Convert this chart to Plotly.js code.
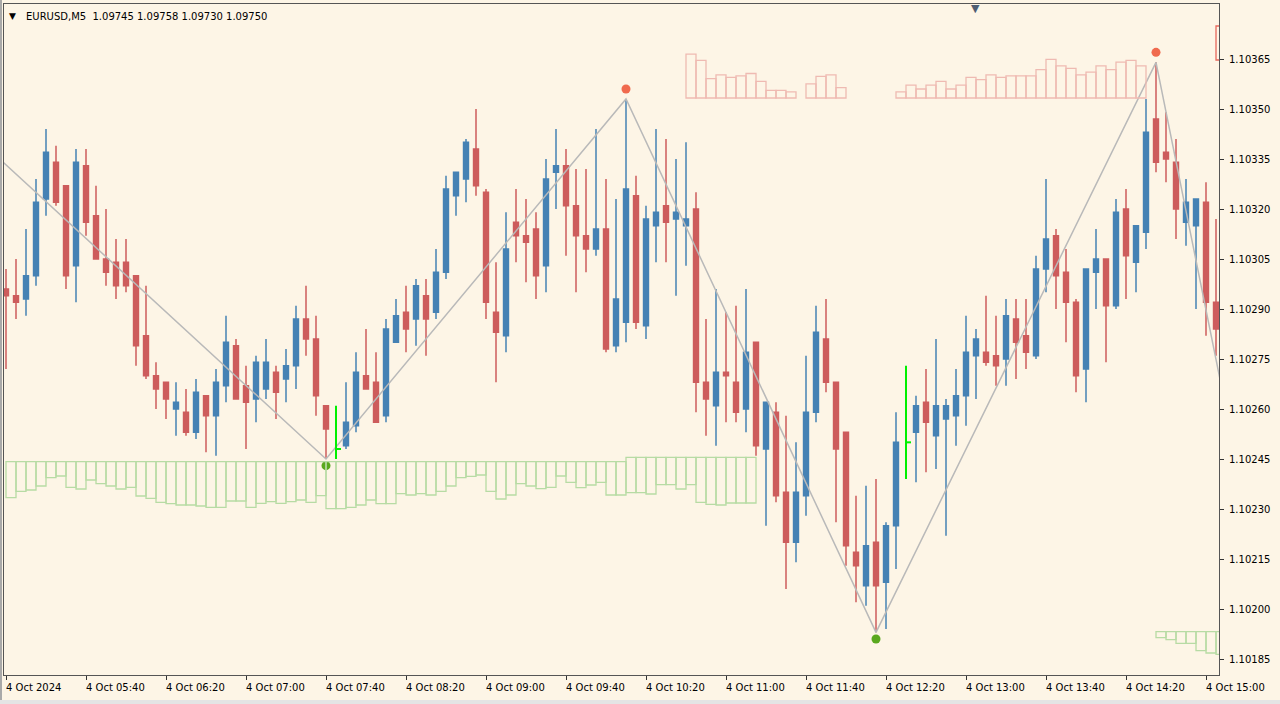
<!DOCTYPE html>
<html><head><meta charset="utf-8">
<script src="https://cdn.plot.ly/plotly-3.0.1.min.js"></script>
<style>html,body{margin:0;padding:0;background:#fdf5e6;overflow:hidden}#wrap{position:relative;width:1280px;height:704px}#chart{width:1280px;height:704px}
#fl{position:absolute;left:0;top:0;width:2px;height:704px;background:#a9a9a9}#fb{position:absolute;left:0;top:700px;width:1280px;height:4px;background:#e4e4e4}</style>
</head><body><div id="wrap"><div id="chart"></div><div id="fl"></div><div id="fb"></div></div>
<script>
// ---- Candles (EURUSD M5, 4 Oct 2024, bar index 0 = 05:00) ----
const opens = [1.10296,1.10294,1.10293,1.10300,1.10323,1.10334,1.10327,1.10303,1.10333,1.10318,
1.10305,1.10304,1.10304,1.10300,1.10282,1.10270,1.10268,1.10260,1.10259,1.10253,
1.10264,1.10258,1.10267,1.10279,1.10267,1.10263,1.10266,1.10271,1.10269,1.10273,
1.10287,1.10281,1.10261,null,1.10249,1.10255,1.10270,1.10268,1.10258,1.10280,
1.10289,1.10287,1.10294,1.10289,1.10301,1.10324,1.10329,1.10338,1.10325,1.10289,
1.10282,1.10316,1.10312,1.10314,1.10303,1.10331,1.10333,1.10321,1.10312,1.10308,
1.10314,1.10279,1.10286,1.10324,1.10285,1.10315,1.10321,1.10317,1.10315,1.10320,
1.10268,1.10261,1.10271,1.10268,1.10260,1.10280,1.10248,1.10259,1.10235,1.10220,
1.10234,1.10259,1.10281,1.10268,1.10253,1.10217,1.10207,1.10220,1.10208,1.10225,
null,1.10253,1.10262,1.10252,1.10257,1.10258,1.10264,1.10276,1.10277,1.10276,
1.10275,1.10287,1.10282,1.10276,1.10302,1.10312,1.10301,1.10292,1.10272,1.10301,
1.10305,1.10291,1.10320,1.10304,1.10313,1.10347,1.10337,1.10334,1.10316,1.10315,
1.10322,1.10292];
const highs = [1.10302,1.10305,1.10314,1.10329,1.10344,1.10339,1.10327,1.10338,1.10338,1.10327,
1.10320,1.10311,1.10311,1.10300,1.10297,1.10274,1.10268,1.10268,1.10266,1.10269,
1.10264,1.10272,1.10288,1.10281,1.10273,1.10276,1.10281,1.10273,1.10278,1.10291,
1.10297,1.10288,1.10261,null,1.10268,1.10277,1.10284,1.10277,1.10287,1.10293,
1.10297,1.10299,1.10299,1.10308,1.10330,1.10331,1.10341,1.10350,1.10326,1.10304,
1.10319,1.10326,1.10323,1.10319,1.10335,1.10344,1.10338,1.10332,1.10332,1.10344,
1.10329,1.10323,1.10353,1.10330,1.10321,1.10344,1.10341,1.10335,1.10340,1.10325,
1.10287,1.10296,1.10289,1.10291,1.10296,1.10280,1.10262,1.10262,1.10258,1.10250,
1.10276,1.10291,1.10293,1.10268,1.10253,1.10234,1.10237,1.10239,1.10226,1.10259,
null,1.10264,1.10272,1.10281,1.10263,1.10272,1.10288,1.10284,1.10294,1.10288,
1.10293,1.10293,1.10293,1.10306,1.10329,1.10314,1.10308,1.10293,1.10302,1.10314,
1.10305,1.10323,1.10326,1.10315,1.10353,1.10364,1.10349,1.10341,1.10329,1.10323,
1.10328,1.10317];
const lows = [1.10272,1.10287,1.10288,1.10297,1.10318,1.10321,1.10296,1.10292,1.10312,1.10305,
1.10297,1.10293,1.10295,1.10273,1.10269,1.10260,1.10257,1.10252,1.10252,1.10251,
1.10247,1.10246,1.10262,1.10263,1.10248,1.10256,1.10263,1.10257,1.10262,1.10266,
1.10276,1.10258,1.10245,null,1.10248,1.10253,1.10266,1.10256,1.10256,1.10280,
1.10277,1.10279,1.10276,1.10287,1.10299,1.10318,1.10322,1.10324,1.10287,1.10268,
1.10277,1.10304,1.10298,1.10293,1.10295,1.10320,1.10306,1.10295,1.10301,1.10306,
1.10277,1.10277,1.10280,1.10284,1.10281,1.10304,1.10304,1.10294,1.10303,1.10259,
1.10252,1.10249,1.10256,1.10256,1.10253,1.10246,1.10225,1.10232,1.10206,1.10214,
1.10228,1.10256,1.10265,1.10226,1.10213,1.10202,1.10201,1.10193,1.10194,1.10212,
null,1.10238,1.10241,1.10242,1.10222,1.10249,1.10255,1.10263,1.10273,1.10267,
1.10267,1.10269,1.10272,1.10275,1.10295,1.10290,1.10280,1.10265,1.10262,1.10290,
1.10274,1.10290,1.10293,1.10295,1.10308,1.10331,1.10328,1.10311,1.10309,1.10290,
1.10282,1.10276];
const closes = [1.10294,1.10292,1.10300,1.10322,1.10337,1.10322,1.10300,1.10334,1.10316,1.10305,
1.10301,1.10297,1.10297,1.10279,1.10270,1.10266,1.10263,1.10262,1.10253,1.10265,
1.10258,1.10268,1.10280,1.10263,1.10262,1.10274,1.10274,1.10265,1.10273,1.10287,
1.10281,1.10264,1.10254,null,1.10256,1.10271,1.10266,1.10256,1.10284,1.10288,
1.10284,1.10297,1.10287,1.10301,1.10326,1.10331,1.10340,1.10327,1.10292,1.10283,
1.10308,1.10312,1.10310,1.10300,1.10329,1.10333,1.10321,1.10312,1.10308,1.10314,
1.10278,1.10293,1.10326,1.10286,1.10317,1.10319,1.10316,1.10319,1.10317,1.10268,
1.10263,1.10271,1.10270,1.10259,1.10277,1.10249,1.10262,1.10234,1.10220,1.10235,
1.10259,1.10283,1.10268,1.10248,1.10219,1.10213,1.10219,1.10207,1.10225,1.10250,
null,1.10261,1.10256,1.10261,1.10261,1.10264,1.10277,1.10281,1.10274,1.10273,
1.10288,1.10280,1.10277,1.10302,1.10311,1.10300,1.10292,1.10270,1.10302,1.10305,
1.10291,1.10319,1.10306,1.10315,1.10343,1.10334,1.10335,1.10320,1.10322,1.10323,
1.10292,1.10284];

// ---- Signal bars (green lines) ----
const sigBars  = [33, 90];
const sigHigh  = [1.10261, 1.10273];
const sigLow   = [1.10245, 1.10239];
const sigLevel = [1.10248, 1.10250];

// ---- ZigZag ----
const zzBars   = [-1, 32, 62, 87, 115, 122];
const zzPrices = [1.10336, 1.10245, 1.10353, 1.10193, 1.10364, 1.10260];
const peakBars = [62, 115], peakPrices = [1.10356, 1.10367];
const troughBars = [32, 87], troughPrices = [1.10243, 1.10191];

// ---- Upper histogram (pink) ----
const pinkSlots = [68,69,70,71,72,73,74,75,76,77,78, 80,81,82,83,
 89,90,91,92,93,94,95,96,97,98,99,100,101,102,103,104,105,106,107,108,109,110,111,112,113];
const pinkValues = [43.8,37.6,19.3,23.1,20.7,22.1,24.5,16.6,7.6,7.6,6.2, 14.1,21.7,23.1,10.3,
 6.2,12.8,9.0,12.8,16.6,9.0,12.8,20.7,18.3,23.1,20.7,22.1,22.1,22.1,28.3,38.6,32.1,29.7,23.1,25.9,32.1,28.3,35.9,37.6,32.1];
const pinkCurSlots = [121], pinkCurBase = [38], pinkCurTop = [72];

// ---- Lower histogram (green) ----
const greenDepth = [36.0,29.6,28.3,24.3,16.0,14.3,25.6,27.3,18.3,22.0,
24.3,27.3,25.6,34.3,36.6,40.6,42.0,43.3,43.3,44.3,
45.6,45.6,39.3,39.3,45.6,41.6,40.0,41.6,40.0,38.3,
40.6,34.0,47.0,47.0,45.6,43.3,38.3,42.0,42.0,32.0,
33.3,32.0,33.3,29.6,24.3,16.0,14.6,13.3,29.6,37.3,
33.3,22.0,24.3,27.0,25.6,14.3,20.6,26.0,23.3,20.6,
33.3,33.3,31.0,31.0,32.3,23.0,23.0,27.3,23.0,40.6,
42.6,43.3,41.3,41.3,41.3];
const greenTop = greenDepth.map((d, i) => (i >= 62 ? 4.4 : 0));
const greenCurSlots = [115,116,117,118,119,120,121];
const greenCurTop = -170;
const greenCurDepth = [6, 8, 11.6, 11.6, 19, 21.3, 22.6];

// ---- Axis labels ----
const labelBars = [0,8,16,24,32,40,48,56,64,72,80,88,96,104,112,120];
const labelTexts = ["4 Oct 2024","4 Oct 05:40","4 Oct 06:20","4 Oct 07:00","4 Oct 07:40","4 Oct 08:20",
 "4 Oct 09:00","4 Oct 09:40","4 Oct 10:20","4 Oct 11:00","4 Oct 11:40","4 Oct 12:20","4 Oct 13:00",
 "4 Oct 13:40","4 Oct 14:20","4 Oct 15:00"];
const priceTicks = [1.10185,1.10200,1.10215,1.10230,1.10245,1.10260,1.10275,1.10290,1.10305,1.10320,1.10335,1.10350,1.10365];
const headerText = "EURUSD,M5\u00a0\u00a01.09745 1.09758 1.09730 1.09750";

const idx = opens.map((_, i) => i);
const FONT = 'DejaVu Sans';
const clear = 'rgba(0,0,0,0)';

const sigX = [], sigY = [];
sigBars.forEach((b, i) => {
  sigX.push(b, b, null, b, b + 0.5, null);
  sigY.push(sigLow[i], sigHigh[i], null, sigLevel[i], sigLevel[i], null);
});

const traces = [
  {type:'bar', x: greenDepth.map((_, i) => i + 0.5), base: greenTop, y: greenDepth.map((d, i) => -d - greenTop[i]),
   width: 1, yaxis:'y3', marker:{color: clear, line:{color:'#b7dba4', width:1.3}}, hoverinfo:'skip'},
  {type:'bar', x: greenCurSlots.map(s => s + 0.5), base: greenCurSlots.map(() => greenCurTop), y: greenCurDepth.map(d => -d),
   width: 1, yaxis:'y3', marker:{color: clear, line:{color:'#b7dba4', width:1.3}}, hoverinfo:'skip'},
  {type:'bar', x: pinkSlots.map(s => s + 0.5), base: pinkSlots.map(() => 0), y: pinkValues,
   width: 1, yaxis:'y2', marker:{color: clear, line:{color:'#efbab2', width:1.3}}, hoverinfo:'skip'},
  {type:'bar', x: pinkCurSlots.map(s => s + 0.5), base: pinkCurBase, y: pinkCurTop.map((t, i) => t - pinkCurBase[i]),
   width: 1, yaxis:'y2', marker:{color: clear, line:{color:'#e8675c', width:1.3}}, hoverinfo:'skip'},
  {type:'candlestick', x: idx, open: opens, high: highs, low: lows, close: closes,
   increasing:{line:{color:'#4682b4', width:1.5}, fillcolor:'#4682b4'},
   decreasing:{line:{color:'#cd5c5c', width:1.5}, fillcolor:'#cd5c5c'},
   whiskerwidth: 0, hoverinfo:'skip'},
  {type:'scatter', mode:'lines', x: zzBars, y: zzPrices, line:{color:'#b9b9b9', width:1.5}, hoverinfo:'skip'},
  {type:'scatter', mode:'lines', x: sigX, y: sigY, line:{color:'#00f000', width:2}, hoverinfo:'skip'},
  {type:'scatter', mode:'markers', x: peakBars, y: peakPrices, marker:{color:'#f06a4e', size:9}, hoverinfo:'skip'},
  {type:'scatter', mode:'markers', x: troughBars, y: troughPrices, marker:{color:'#5aa81e', size:9}, hoverinfo:'skip'}
];

const annotations = labelBars.map((b, i) => ({
  x: b, xref:'x', y: 0, yref:'paper', xanchor:'left', yanchor:'top', xshift:-2, yshift:-5,
  text: labelTexts[i], showarrow:false, font:{family:FONT, size:10, color:'#000'}
}));
annotations.push({x:0, xref:'paper', y:1, yref:'paper', xanchor:'left', yanchor:'middle', xshift:20, yshift:-12,
  text: headerText, showarrow:false, font:{family:FONT, size:10, color:'#000'}});
annotations.push({x:0, xref:'paper', y:1, yref:'paper', xanchor:'left', yanchor:'middle', xshift:3, yshift:-12,
  text:'\u25BC', showarrow:false, font:{family:FONT, size:9, color:'#000'}});
annotations.push({x:(975-4)/1215, xref:'paper', y:1, yref:'paper', xanchor:'center', yanchor:'middle', yshift:-4,
  text:'\u25BC', showarrow:false, font:{family:FONT, size:11, color:'#4e5d72'}});

const layout = {
  width:1280, height:704,
  margin:{l:4, r:61, t:4, b:29, pad:0},
  paper_bgcolor:'#fdf5e6', plot_bgcolor:'#fdf5e6',
  showlegend:false, barmode:'overlay', dragmode:false,
  font:{family:FONT, size:10, color:'#000'},
  xaxis:{range:[-0.2, 121.3], rangeslider:{visible:false}, showgrid:false, zeroline:false,
    showline:true, mirror:true, linecolor:'#555555', linewidth:1,
    ticks:'outside', ticklen:4, tickcolor:'#333', tickvals: labelBars, showticklabels:false, fixedrange:true},
  yaxis:{range:[1.101802, 1.103815], side:'right', showgrid:false, zeroline:false,
    showline:true, mirror:true, linecolor:'#555555', linewidth:1,
    ticks:'outside', ticklen:4, tickcolor:'#333', tickvals: priceTicks, tickformat:'.5f',
    ticklabelstandoff:3, tickfont:{family:FONT, size:10, color:'#000'}, fixedrange:true},
  yaxis2:{overlaying:'y', range:[-577, 94], visible:false, fixedrange:true},
  yaxis3:{overlaying:'y', range:[-213.3, 457.7], visible:false, fixedrange:true},
  annotations: annotations
};

Plotly.newPlot('chart', traces, layout, {staticPlot:true, displayModeBar:false});
</script>
</body></html>
